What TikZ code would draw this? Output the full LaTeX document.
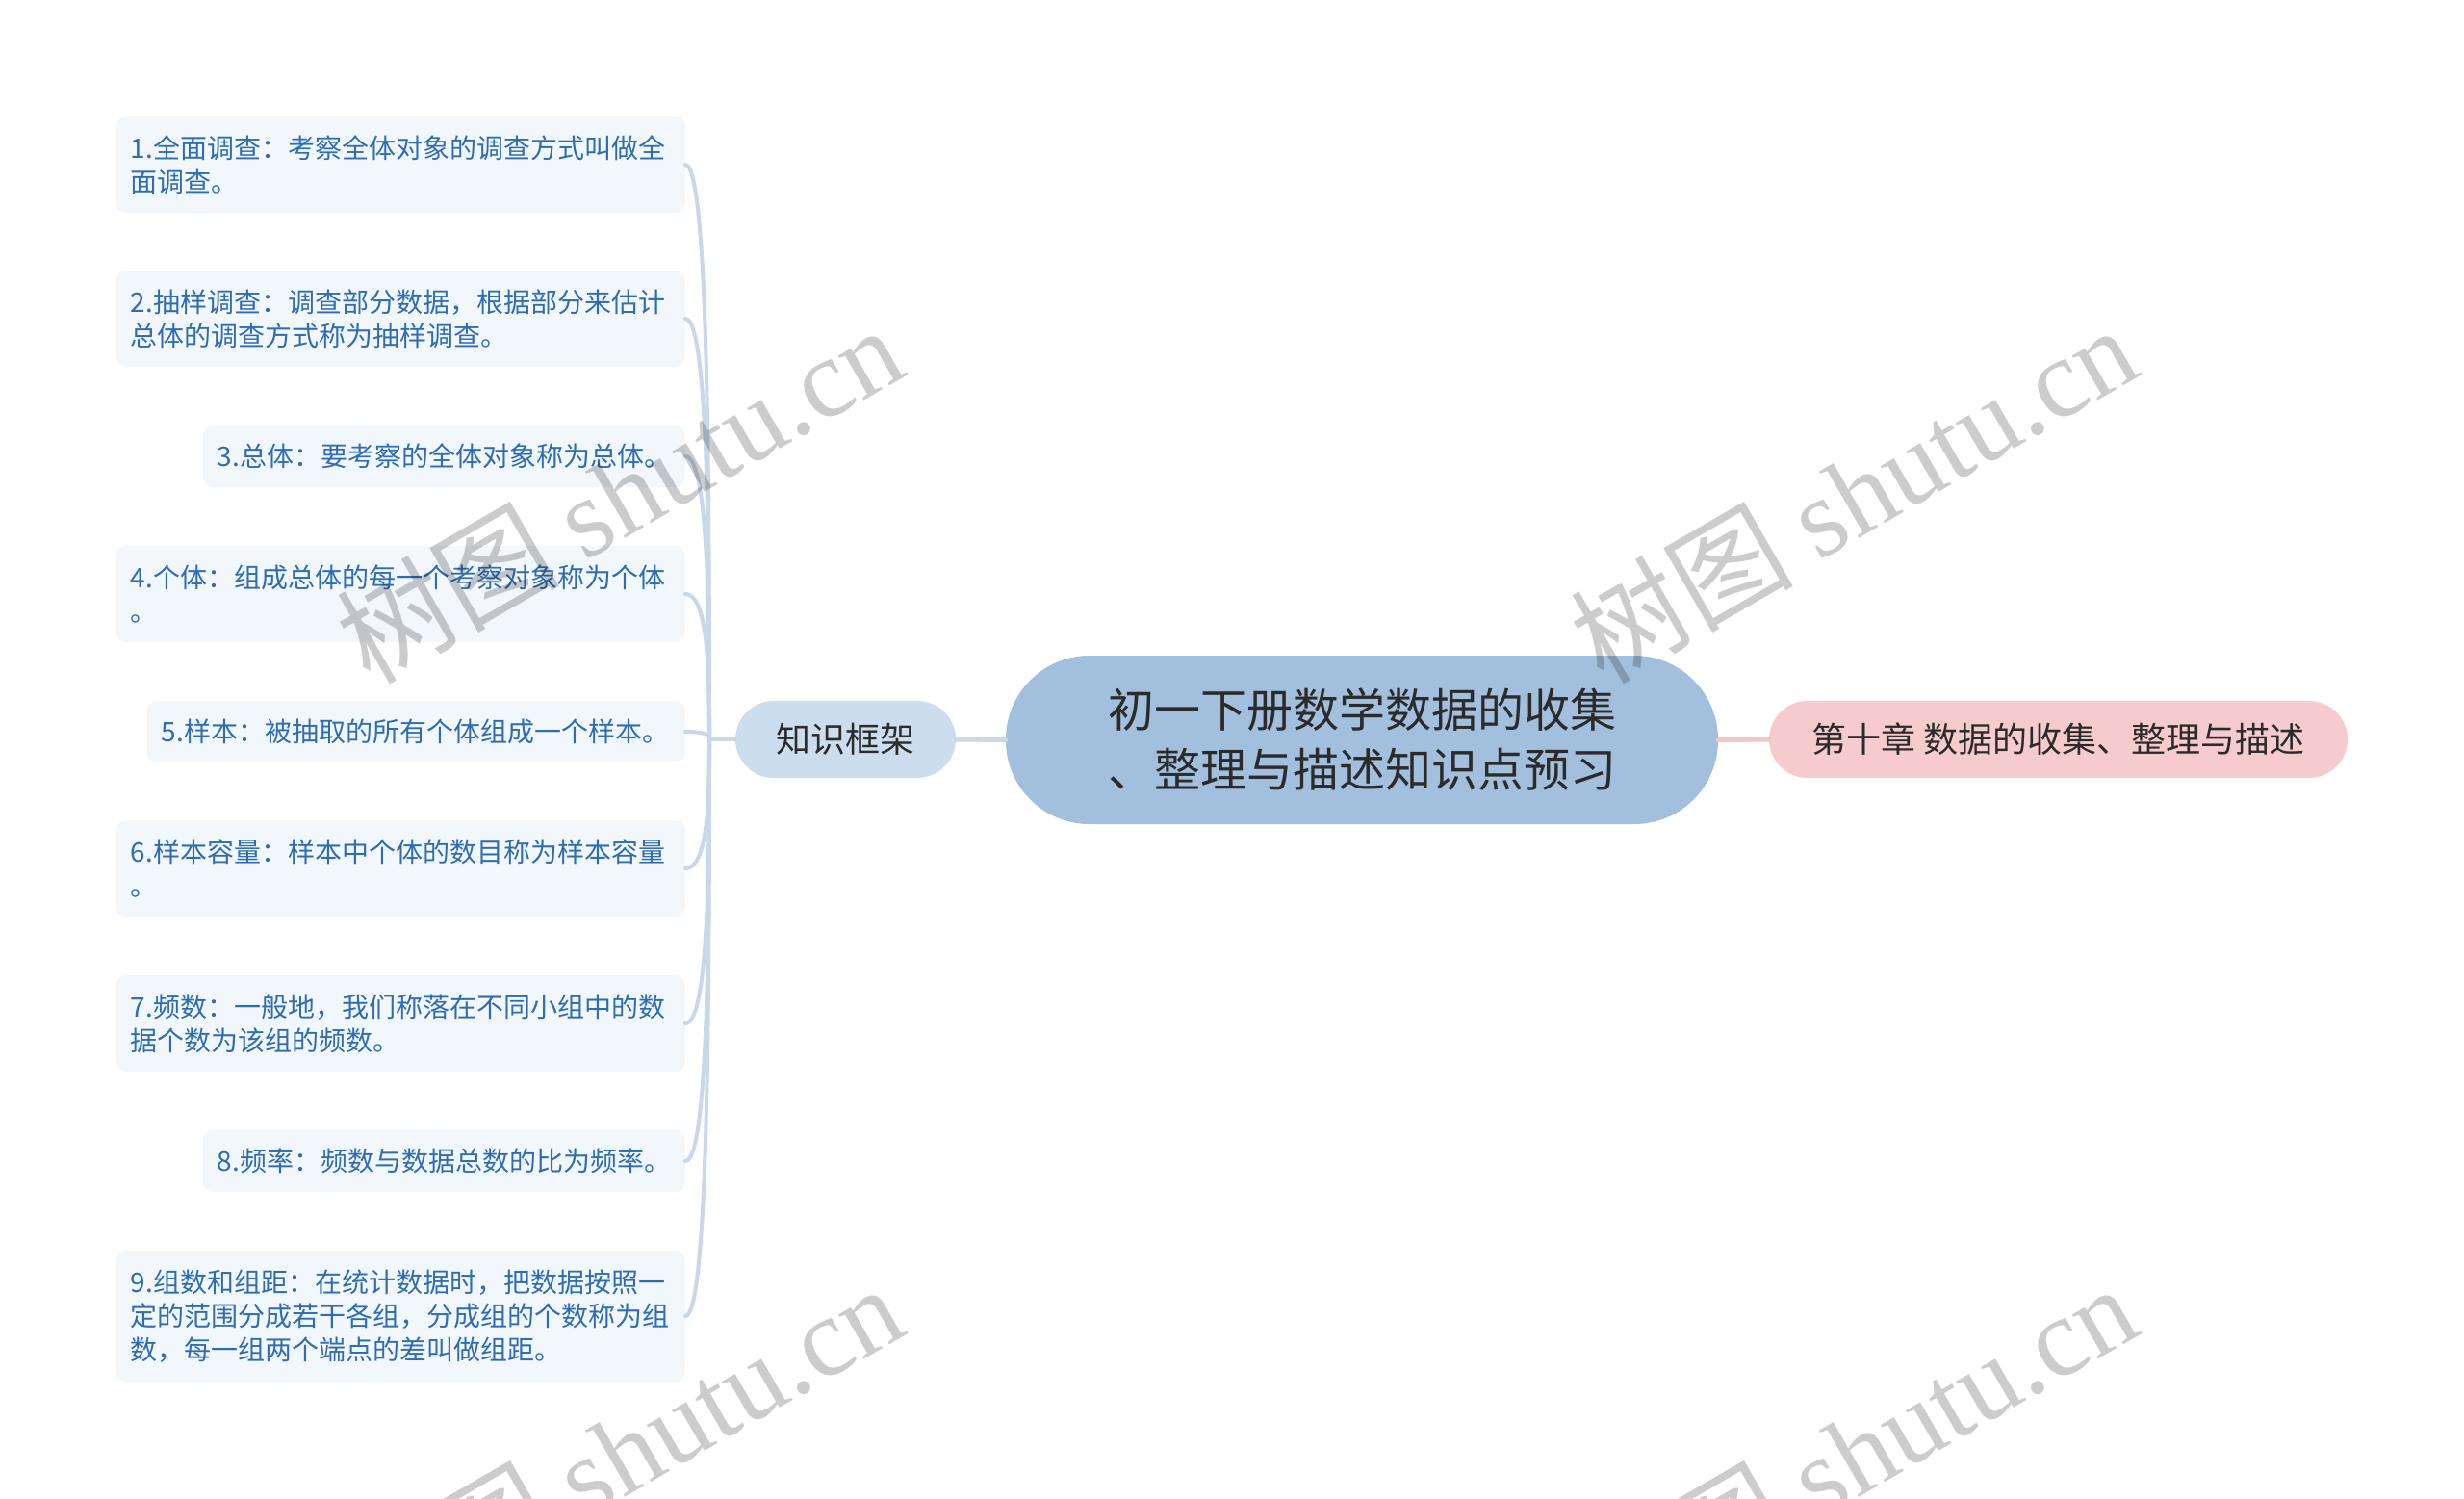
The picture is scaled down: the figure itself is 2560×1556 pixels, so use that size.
\documentclass[tikz,border=0pt]{standalone}
\usepackage{fontspec}
\setmainfont{Noto Sans CJK SC}
\newfontfamily\wmlatin{Liberation Serif}
\usetikzlibrary{calc}
\definecolor{leaftext}{HTML}{2E6DB4}
\definecolor{leaffill}{HTML}{F2F7FC}
\definecolor{linkblue}{HTML}{C7D8EA}
\definecolor{framefill}{HTML}{CCDDEE}
\definecolor{centerfill}{HTML}{A2C0DD}
\definecolor{pinkfill}{HTML}{F6CBCD}
\definecolor{linkpink}{HTML}{F4C4C6}
\definecolor{darktext}{HTML}{2B2B2B}
\begin{document}
\begin{tikzpicture}[x=1pt,y=-1pt,
  leafbox/.style={draw=none, fill=leaffill, rounded corners=10pt, inner xsep=15pt, inner ysep=0pt,
    align=left, text=leaftext, font=\fontsize{28}{35}\selectfont, anchor=east},
  framebox/.style={draw=none, fill=framefill, rounded corners=40pt, minimum width=229pt, minimum height=80pt,
    inner sep=0pt, text=darktext, font=\fontsize{36}{44}\selectfont},
  centerbox/.style={draw=none, fill=centerfill, rounded corners=87pt, minimum width=740pt, minimum height=175pt,
    inner sep=0pt, align=center, text=darktext, font=\fontsize{48}{62}\selectfont},
  chapterbox/.style={draw=none, fill=pinkfill, rounded corners=40pt, minimum width=601pt, minimum height=80pt,
    inner sep=0pt, text=darktext, font=\fontsize{36}{44}\selectfont},
  blink/.style={draw=linkblue, line width=4pt, line cap=round},
  plink/.style={draw=linkpink, line width=5pt, line cap=round},
  wmark/.style={text=black, text opacity=0.2, rotate=30, inner sep=0pt, font=\fontsize{116}{120}\selectfont}
]
\useasboundingbox (0,0) rectangle (2560,1556);
\clip (0,0) rectangle (2560,1556);
\fill[white] (0,0) rectangle (2560,1556);

% leaves
\node[leafbox, text width=561pt, minimum height=100pt] (l1) at (712,171) {1.全面调查：考察全体对象的调查方式叫做全\\面调查。};
\node[leafbox, text width=561pt, minimum height=100pt] (l2) at (712,331) {2.抽样调查：调查部分数据，根据部分来估计\\总体的调查方式称为抽样调查。};
\node[leafbox, text width=471pt, minimum height=64pt] (l3) at (712,474) {3.总体：要考察的全体对象称为总体。};
\node[leafbox, text width=561pt, minimum height=100pt] (l4) at (712,617) {4.个体：组成总体的每一个考察对象称为个体\\。};
\node[leafbox, text width=529pt, minimum height=64pt] (l5) at (712,760) {5.样本：被抽取的所有个体组成一个样本。};
\node[leafbox, text width=561pt, minimum height=100pt] (l6) at (712,902) {6.样本容量：样本中个体的数目称为样本容量\\。};
\node[leafbox, text width=561pt, minimum height=100pt] (l7) at (712,1063) {7.频数：一般地，我们称落在不同小组中的数\\据个数为该组的频数。};
\node[leafbox, text width=471pt, minimum height=64pt] (l8) at (712,1206) {8.频率：频数与数据总数的比为频率。};
\node[leafbox, text width=561pt, minimum height=136pt] (l9) at (712,1367) {9.组数和组距：在统计数据时，把数据按照一\\定的范围分成若干各组，分成组的个数称为组\\数，每一组两个端点的差叫做组距。};

% main nodes
\node[framebox] (kf) at (878.5,768) {知识框架};
\node[centerbox] (ctr) at (1415,768.5) {初一下册数学数据的收集\\、整理与描述知识点预习};
\node[chapterbox] (rt) at (2138.5,768) {第十章 数据的收集、整理与描述};

% connectors
\coordinate (T) at (737,768);
\foreach \i in {1,...,9}{
  \draw[blink] (l\i.east) .. controls ($(l\i.east)+(23,0)$) and ($(T)!0.5!(T |- l\i.east)$) .. (T);
}
\draw[blink] (T) -- (kf.west);
\draw[blink, line width=5pt] (kf.east) -- (ctr.west);
\draw[plink] (ctr.east) -- (rt.west);

% watermarks
\node[wmark] (w1) at (643,512) {树图 {\wmlatin shutu.cn}};
\node[wmark] (w2) at (1925,512) {树图 {\wmlatin shutu.cn}};
\node[wmark] (w3) at (643,1508) {树图 {\wmlatin shutu.cn}};
\node[wmark] (w4) at (1925,1508) {树图 {\wmlatin shutu.cn}};
\end{tikzpicture}
\end{document}
